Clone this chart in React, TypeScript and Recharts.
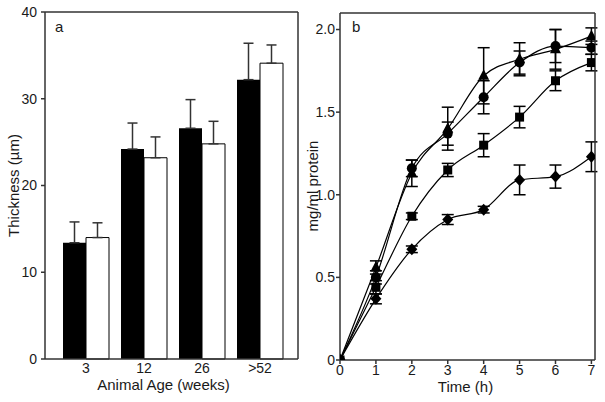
import { BarChart, Bar, LineChart, Line, XAxis, YAxis, ErrorBar } from "recharts";

// panel a: epithelial thickness by age
const AGES = ["3", "12", "26", ">52"];
const BLACK = [13.4, 24.2, 26.6, 32.2];
const BLACK_ERR = [2.4, 3.0, 3.3, 4.2];
const WHITE = [14.0, 23.2, 24.8, 34.1];
const WHITE_ERR = [1.7, 2.4, 2.6, 2.1];

// panel b: protein over time
const HOURS = [0, 1, 2, 3, 4, 5, 6, 7];
const TRI = [0, 0.56, 1.13, 1.4, 1.72, 1.82, 1.88, 1.96];
const TRI_ERR = [0, 0.04, 0.08, 0.13, 0.17, 0.1, 0.12, 0.05];
const CIR = [0, 0.5, 1.16, 1.37, 1.59, 1.8, 1.9, 1.89];
const CIR_ERR = [0, 0.04, 0.05, 0.07, 0.1, 0.07, 0.1, 0.04];
const SQ = [0, 0.44, 0.87, 1.15, 1.3, 1.47, 1.69, 1.8];
const SQ_ERR = [0, 0.04, 0.02, 0.04, 0.07, 0.065, 0.06, 0.05];
const DIA = [0, 0.37, 0.67, 0.85, 0.91, 1.09, 1.11, 1.23];
const DIA_ERR = [0, 0.03, 0.02, 0.03, 0.02, 0.09, 0.07, 0.09];

const FONT = "'Liberation Sans', Arial, sans-serif";
const INK = "#1a1a1a";
const AXIS = "#333";
const tick = { fill: INK, fontSize: 14 };

const barData = AGES.map((age, i) => ({
  age,
  black: BLACK[i],
  blackErr: [0, BLACK_ERR[i]],
  white: WHITE[i],
  whiteErr: [0, WHITE_ERR[i]],
}));

const lineData = HOURS.map((t, i) => ({
  t,
  tri: TRI[i],
  triE: TRI_ERR[i],
  cir: CIR[i],
  cirE: CIR_ERR[i],
  sq: SQ[i],
  sqE: SQ_ERR[i],
  dia: DIA[i],
  diaE: DIA_ERR[i],
}));

// rotated axis title, placed from the axis viewBox
function VLabel(props: any) {
  const { viewBox, text, off } = props;
  if (!viewBox) return null;
  const x = viewBox.x + off;
  const y = viewBox.y + viewBox.height / 2;
  return (
    <text x={x} y={y} transform={`rotate(-90 ${x} ${y})`} textAnchor="middle" dominantBaseline="central" fill={INK} fontSize={15}>
      {text}
    </text>
  );
}

function HLabel(props: any) {
  const { viewBox, text, dx, bottom } = props;
  if (!viewBox) return null;
  const x = viewBox.x + viewBox.width / 2 + dx;
  const y = viewBox.y + viewBox.height - bottom;
  return (
    <text x={x} y={y} textAnchor="middle" fill={INK} fontSize={15}>
      {text}
    </text>
  );
}

function Marker({ cx, cy, shape }: { cx?: number; cy?: number; shape: string }) {
  if (cx == null || cy == null) return null;
  if (shape === "triangle")
    return <polygon points={`${cx},${cy - 6.5} ${cx - 5.5},${cy + 4} ${cx + 5.5},${cy + 4}`} fill="#000" />;
  if (shape === "square") return <rect x={cx - 4.5} y={cy - 4.5} width={9} height={9} fill="#000" />;
  if (shape === "diamond")
    return <polygon points={`${cx},${cy - 6} ${cx + 5.5},${cy} ${cx},${cy + 6} ${cx - 5.5},${cy}`} fill="#000" />;
  return <circle cx={cx} cy={cy} r={5} fill="#000" />;
}

const dotFor = (name: string, shape: string) => (p: any) =>
  <Marker key={`${name}-${p.index}`} cx={p.cx} cy={p.cy} shape={shape} />;

const SERIES = [
  { key: "tri", shape: "triangle" },
  { key: "cir", shape: "circle" },
  { key: "sq", shape: "square" },
  { key: "dia", shape: "diamond" },
];

export default function App() {
  return (
    <div style={{ position: "absolute", left: 0, top: 0, width: 605, height: 402, background: "#fff", fontFamily: FONT }}>
      <div style={{ position: "absolute", left: 0, top: 0 }}>
        <BarChart width={300} height={402} data={barData} margin={{ top: 11, right: 1, bottom: 13, left: 0 }} barGap={0} barSize={23}>
          <XAxis
            dataKey="age"
            tick={tick}
            tickLine={false}
            tickSize={0}
            tickMargin={4}
            height={30}
            padding={{ left: 12, right: 9 }}
            stroke={AXIS}
            strokeWidth={1.5}
            label={<HLabel text="Animal Age (weeks)" dx={-8} bottom={-1} />}
          />
          <XAxis xAxisId="top" dataKey="age" orientation="top" height={1} tick={false} tickLine={false} stroke={AXIS} strokeWidth={1.5} />
          <YAxis
            domain={[0, 40]}
            ticks={[0, 10, 20, 30, 40]}
            tick={tick}
            tickSize={4}
            tickMargin={4}
            width={45}
            stroke={AXIS}
            strokeWidth={1.5}
            label={<VLabel text="Thickness (µm)" off={13} />}
          />
          <YAxis yAxisId="right" orientation="right" width={1} tick={false} tickLine={false} stroke={AXIS} strokeWidth={1.5} />
          <Bar dataKey="black" fill="#000" isAnimationActive={false}>
            <ErrorBar dataKey="blackErr" width={5} stroke={AXIS} strokeWidth={1.5} />
          </Bar>
          <Bar dataKey="white" fill="#fff" stroke="#000" strokeWidth={1} isAnimationActive={false}>
            <ErrorBar dataKey="whiteErr" width={5} stroke={AXIS} strokeWidth={1.5} />
          </Bar>
        </BarChart>
        <div style={{ position: "absolute", left: 55, top: 19, fontSize: 15, lineHeight: "15px", color: INK }}>a</div>
      </div>

      <div style={{ position: "absolute", left: 300, top: 0 }}>
        <LineChart width={305} height={402} data={lineData} margin={{ top: 12, right: 9, bottom: 12, left: 0 }}>
          <XAxis
            dataKey="t"
            type="number"
            domain={[0, 7.1]}
            ticks={HOURS}
            allowDataOverflow
            tick={tick}
            tickSize={4}
            tickMargin={1}
            height={30}
            stroke={AXIS}
            strokeWidth={1.5}
            label={<HLabel text="Time (h)" dx={-2} bottom={-2} />}
          />
          <XAxis xAxisId="top" dataKey="t" type="number" domain={[0, 7.1]} orientation="top" height={1} tick={false} tickLine={false} stroke={AXIS} strokeWidth={1.5} />
          <YAxis
            domain={[0, 2.1]}
            ticks={[0, 0.5, 1, 1.5, 2]}
            allowDataOverflow
            tickFormatter={(v: number) => (v === 0 ? "0" : v.toFixed(1))}
            tick={tick}
            tickSize={4}
            tickMargin={1}
            width={40}
            stroke={AXIS}
            strokeWidth={1.5}
          />
          <YAxis yAxisId="right" orientation="right" width={1} tick={false} tickLine={false} stroke={AXIS} strokeWidth={1.5} />
          {SERIES.map((s) => (
            <Line
              key={s.key}
              type="monotone"
              dataKey={s.key}
              stroke="#000"
              strokeWidth={1.2}
              dot={dotFor(s.key, s.shape)}
              activeDot={false}
              isAnimationActive={false}
            >
              <ErrorBar dataKey={`${s.key}E`} width={6} stroke="#000" strokeWidth={1.5} />
            </Line>
          ))}
        </LineChart>
        <div style={{ position: "absolute", left: 52, top: 19, fontSize: 15, lineHeight: "15px", color: INK }}>b</div>
        <div
          style={{
            position: "absolute",
            left: 12,
            top: 186,
            transform: "translate(-50%, -50%) rotate(-90deg)",
            fontSize: 15,
            lineHeight: "15px",
            whiteSpace: "nowrap",
            color: INK,
          }}
        >
          mg/ml protein
        </div>
      </div>
    </div>
  );
}
